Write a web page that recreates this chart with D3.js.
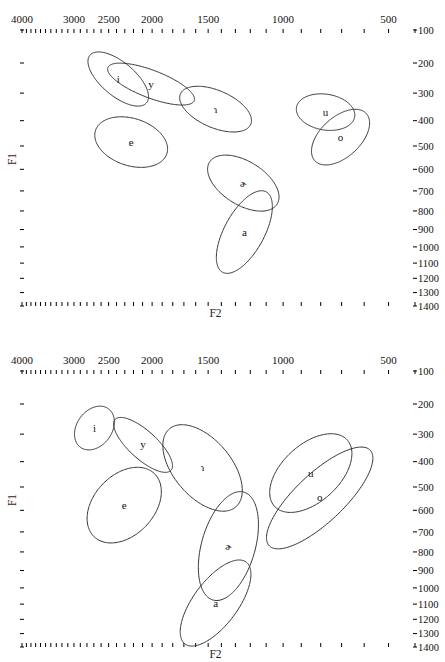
<!DOCTYPE html>
<html><head><meta charset="utf-8">
<script src="https://cdn.jsdelivr.net/npm/d3@7"></script>
<style>body{margin:0;background:#fff}svg{display:block}</style>
</head><body>
<svg id="c" width="445" height="662"></svg>
<script>
// ---- data ----
const vowels = ["i","y","ɿ","e","u","o","ɚ","a"];
const f2Labels = [4000,3000,2500,2000,1500,1000,500];
const f2Ticks = d3.range(400, 4001, 100);
const f1Ticks = [100,200,300,400,500,600,700,800,900,1000,1100,1200,1300,1400];

// panel 1 (top)
const p1F2 = [2379,2011,1443,2226,776,705,1246,1239];
const p1F1 = [252,269,357,484,368,464,663,914];
const p1Major = [1.29,1.59,1.32,1.29,1.01,1.22,1.38,1.62];   // bark
const p1Minor = [0.59,0.49,0.66,0.84,0.64,0.70,0.77,0.69];   // bark
const p1Angle = [42,22,25,20,10,-45,34,-63];                 // degrees

// panel 2 (bottom)
const p2F2 = [2692,2095,1544,2307,850,805,1349,1443];
const p2F1 = [279,338,424,577,444,546,770,1093];
const p2Major = [0.84,1.32,1.80,1.53,1.72,2.43,2.00,1.80];
const p2Minor = [0.61,0.49,1.00,1.05,1.00,0.85,0.92,0.77];
const p2Angle = [-58,44,52,-50,-45,-45,-75,-55];

// ---- scales (Traunmüller bark) ----
const bark = f => 26.81 * f / (1960 + f) - 0.53;
const xB = d3.scaleLinear().domain([bark(4000), bark(400)]).range([22, 415]);
const yB = d3.scaleLinear().domain([bark(100), bark(1400)]).range([30, 306]);
const x = f => xB(bark(f));
const y = f => yB(bark(f));

const svg = d3.select("#c");
const FONT = "'Liberation Serif','DejaVu Serif',serif";

function panel(g, F2, F1, maj, min, ang) {
  // top ticks
  g.append("g").selectAll("line").data(f2Ticks).join("line")
    .attr("x1", d => x(d)).attr("x2", d => x(d)).attr("y1", 29).attr("y2", 33)
    .attr("stroke", "#000").attr("stroke-width", 1);
  // bottom ticks
  g.append("g").selectAll("line").data(f2Ticks).join("line")
    .attr("x1", d => x(d)).attr("x2", d => x(d)).attr("y1", 302).attr("y2", 306)
    .attr("stroke", "#000").attr("stroke-width", 1);
  // top labels
  g.append("g").selectAll("text").data(f2Labels).join("text")
    .attr("x", d => x(d)).attr("y", 23).attr("text-anchor", "middle")
    .attr("font-family", FONT).attr("font-size", 11).attr("fill", "#111")
    .text(d => d);
  // left ticks
  g.append("g").selectAll("line").data(f1Ticks).join("line")
    .attr("x1", 20).attr("x2", 24).attr("y1", d => y(d)).attr("y2", d => y(d))
    .attr("stroke", "#000").attr("stroke-width", 1);
  // right ticks
  g.append("g").selectAll("line").data(f1Ticks).join("line")
    .attr("x1", 413).attr("x2", 417).attr("y1", d => y(d)).attr("y2", d => y(d))
    .attr("stroke", "#000").attr("stroke-width", 1);
  g.append("g").selectAll("text").data(f1Ticks).join("text")
    .attr("x", 418).attr("y", d => y(d)).attr("dy", "0.35em")
    .attr("font-family", FONT).attr("font-size", 10.5).attr("fill", "#111")
    .text(d => d);
  // axis titles
  g.append("text").attr("x", (x(4000) + x(400)) / 2 - 3).attr("y", 317)
    .attr("text-anchor", "middle").attr("font-family", FONT).attr("font-size", 11.5)
    .attr("fill", "#222").text("F2");
  g.append("text").attr("transform", `translate(16,${(y(100)+y(1400))/2 - 9}) rotate(-90)`)
    .attr("text-anchor", "middle").attr("font-family", FONT).attr("font-size", 11.5)
    .attr("fill", "#3a2020").text("F1");

  // ellipses
  const line = d3.line().x(d => xB(d[0])).y(d => yB(d[1])).curve(d3.curveLinearClosed);
  const ts = d3.range(0, 2 * Math.PI, Math.PI / 90);
  vowels.forEach((v, k) => {
    const cb2 = bark(F2[k]), cb1 = bark(F1[k]);
    const th = ang[k] * Math.PI / 180;
    const pts = ts.map(t => {
      const dx = maj[k] * Math.cos(t) * Math.cos(th) - min[k] * Math.sin(t) * Math.sin(th);
      const dy = maj[k] * Math.cos(t) * Math.sin(th) + min[k] * Math.sin(t) * Math.cos(th);
      return [cb2 - dx, cb1 + dy];
    });
    g.append("path").attr("d", line(pts)).attr("fill", "none")
      .attr("stroke", "#333").attr("stroke-width", 1);
    g.append("text").attr("x", x(F2[k])).attr("y", y(F1[k])).attr("dy", "0.32em")
      .attr("text-anchor", "middle").attr("font-family", FONT).attr("font-size", 11)
      .attr("fill", "#111").text(v);
  });
}

panel(svg.append("g"), p1F2, p1F1, p1Major, p1Minor, p1Angle);
panel(svg.append("g").attr("transform", "translate(0,341)"), p2F2, p2F1, p2Major, p2Minor, p2Angle);
</script>
</body></html>
